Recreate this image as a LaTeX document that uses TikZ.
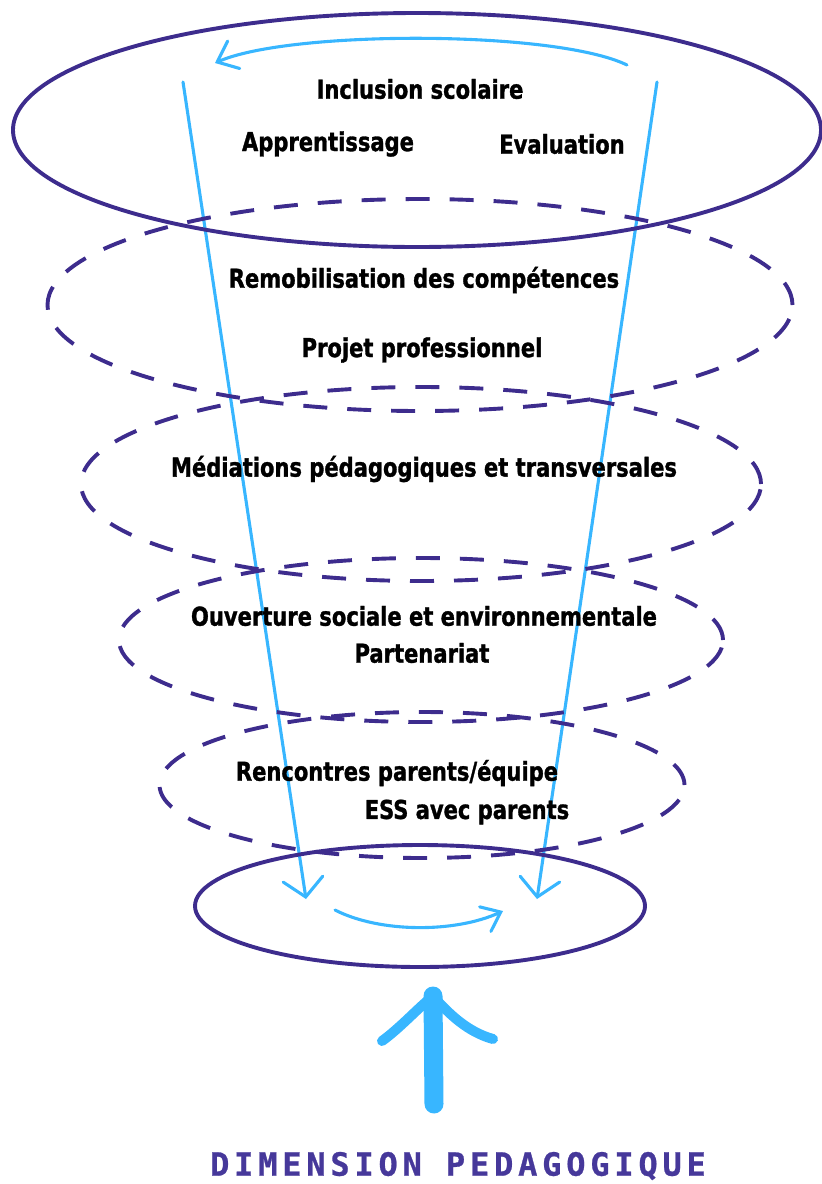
\documentclass[tikz,border=0pt]{standalone}
\usepackage{fontspec}
\newfontfamily\lab[FakeStretch=0.9,FakeBold=1.2]{DejaVu Sans Condensed}
\newfontfamily\headfont[LetterSpace=15,FakeBold=0.8]{DejaVu Sans Mono}
\usetikzlibrary{arrows.meta,shapes.geometric}
\definecolor{ink}{RGB}{61,44,141}
\definecolor{sky}{RGB}{56,182,255}
\definecolor{headink}{RGB}{70,56,154}

\begin{document}
\begin{tikzpicture}[x=1pt,y=-1pt,
  ring/.style={ellipse,draw=ink,line width=3.9pt,inner sep=0pt},
  dashring/.style={ring,dash pattern=on 24pt off 20pt},
  flow/.style={draw=sky,line width=3.1pt,line cap=round},
  barb/.style={-{Straight Barb[length=18pt,width=40pt,line cap=round]}},
  lbl/.style={font=\lab\bfseries\fontsize{26}{30}\selectfont,text=black,inner sep=0pt},
  head/.style={font=\headfont\bfseries\fontsize{32}{36}\selectfont,text=headink,inner sep=0pt}]

\useasboundingbox (0,0) rectangle (822,1184);

% rising flow lines
\coordinate (lstart) at (183,82);
\coordinate (rstart) at (657,82);
\coordinate (lend) at (306,899);
\coordinate (rend) at (537,899);
\draw[flow,barb] (lstart) -- (lend);
\draw[flow,barb] (rstart) -- (rend);

% levels of the funnel
\node[ring,minimum width=808pt,minimum height=234pt] (top) at (417,130) {};
\node[dashring,minimum width=745pt,minimum height=212pt] (lvA) at (420,305) {};
\node[dashring,minimum width=680pt,minimum height=194pt] (lvB) at (421,484) {};
\node[dashring,minimum width=604pt,minimum height=164pt] (lvC) at (421,640) {};
\node[dashring,minimum width=525pt,minimum height=146pt] (lvD) at (422,785) {};
\node[ring,minimum width=450pt,minimum height=122pt] (base) at (420,906) {};

% circulation arrows
\coordinate (tarcA) at (627,65);
\coordinate (tarcB) at (215,63);
\draw[flow,-{Straight Barb[length=18pt,width=30pt,line cap=round]}]
  (tarcA) .. controls (555,30) and (290,30) .. (tarcB);
\coordinate (barcA) at (335,910);
\coordinate (barcB) at (503,911);
\draw[flow,-{Straight Barb[length=17pt,width=27pt,line cap=round]}]
  (barcA) .. controls (380,933) and (455,933) .. (barcB);

% big upward arrow
\coordinate (shaftfoot) at (434,1104);
\coordinate (tip) at (433,996);
\coordinate (wingL) at (382,1041);
\coordinate (wingR) at (493,1039);
\draw[draw=sky,line width=19pt,line cap=round] (shaftfoot) -- (tip);
\draw[draw=sky,line width=10pt,line cap=round,line join=round]
  (wingL) .. controls (400,1028) and (418,1008) .. (tip)
  .. controls (450,1015) and (468,1032) .. (wingR);

% labels
\node[lbl] (incl) at (420,89) {Inclusion scolaire};
\node[lbl] (appr) at (328,144) {Apprentissage};
\node[lbl] (eval) at (562,144) {Evaluation};
\node[lbl] (remob) at (424,280) {Remobilisation des compétences};
\node[lbl] (projet) at (422,350) {Projet professionnel};
\node[lbl] (medi) at (424,469) {Médiations pédagogiques et transversales};
\node[lbl] (ouv) at (424,616) {Ouverture sociale et environnementale};
\node[lbl] (part) at (422,653) {Partenariat};
\node[lbl] (renc) at (397,773) {Rencontres parents/équipe};
\node[lbl] (ess) at (467,812) {ESS avec parents};
\node[head] (dim) at (458,1166) {DIMENSION PEDAGOGIQUE};
\end{tikzpicture}
\end{document}
